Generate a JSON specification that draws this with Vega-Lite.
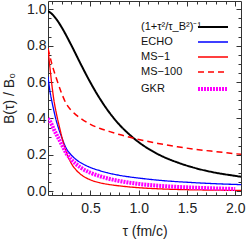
{
  "$schema": "https://vega.github.io/schema/vega-lite/v6.json",
  "width": 193,
  "height": 194,
  "autosize": {"type": "none"},
  "padding": {"left": 48, "top": 1, "right": 5, "bottom": 45},
  "config": {
    "view": {"stroke": "#333", "strokeWidth": 1},
    "font": "Liberation Sans",
    "axis": {"labelFont": "Liberation Sans", "titleFont": "Liberation Sans", "labelFontSize": 14, "titleFontSize": 14, "titleFontWeight": "normal", "labelColor": "#222", "titleColor": "#222", "tickColor": "#333", "domain": false, "grid": false}
  },
  "datasets": {
    "curves": [
      {"s": "(1+τ²/τ_B²)⁻¹", "t": 0.06, "b": 0.990}, {"s": "(1+τ²/τ_B²)⁻¹", "t": 0.1, "b": 0.974}, {"s": "(1+τ²/τ_B²)⁻¹", "t": 0.15, "b": 0.943}, {"s": "(1+τ²/τ_B²)⁻¹", "t": 0.2, "b": 0.902}, {"s": "(1+τ²/τ_B²)⁻¹", "t": 0.3, "b": 0.804}, {"s": "(1+τ²/τ_B²)⁻¹", "t": 0.4, "b": 0.698}, {"s": "(1+τ²/τ_B²)⁻¹", "t": 0.5, "b": 0.597}, {"s": "(1+τ²/τ_B²)⁻¹", "t": 0.6, "b": 0.507}, {"s": "(1+τ²/τ_B²)⁻¹", "t": 0.7, "b": 0.430}, {"s": "(1+τ²/τ_B²)⁻¹", "t": 0.8, "b": 0.366}, {"s": "(1+τ²/τ_B²)⁻¹", "t": 0.9, "b": 0.314}, {"s": "(1+τ²/τ_B²)⁻¹", "t": 1.0, "b": 0.270}, {"s": "(1+τ²/τ_B²)⁻¹", "t": 1.1, "b": 0.234}, {"s": "(1+τ²/τ_B²)⁻¹", "t": 1.2, "b": 0.204}, {"s": "(1+τ²/τ_B²)⁻¹", "t": 1.4, "b": 0.159}, {"s": "(1+τ²/τ_B²)⁻¹", "t": 1.6, "b": 0.126}, {"s": "(1+τ²/τ_B²)⁻¹", "t": 1.8, "b": 0.102}, {"s": "(1+τ²/τ_B²)⁻¹", "t": 2.0, "b": 0.085}, {"s": "(1+τ²/τ_B²)⁻¹", "t": 2.06, "b": 0.080},
      {"s": "ECHO", "t": 0.06, "b": 0.63}, {"s": "ECHO", "t": 0.08, "b": 0.55}, {"s": "ECHO", "t": 0.1, "b": 0.495}, {"s": "ECHO", "t": 0.12, "b": 0.445}, {"s": "ECHO", "t": 0.14, "b": 0.40}, {"s": "ECHO", "t": 0.17, "b": 0.345}, {"s": "ECHO", "t": 0.2, "b": 0.30}, {"s": "ECHO", "t": 0.25, "b": 0.235}, {"s": "ECHO", "t": 0.3, "b": 0.20}, {"s": "ECHO", "t": 0.35, "b": 0.175}, {"s": "ECHO", "t": 0.4, "b": 0.157}, {"s": "ECHO", "t": 0.5, "b": 0.131}, {"s": "ECHO", "t": 0.6, "b": 0.113}, {"s": "ECHO", "t": 0.7, "b": 0.099}, {"s": "ECHO", "t": 0.8, "b": 0.088}, {"s": "ECHO", "t": 1.0, "b": 0.073}, {"s": "ECHO", "t": 1.25, "b": 0.059}, {"s": "ECHO", "t": 1.5, "b": 0.05}, {"s": "ECHO", "t": 1.75, "b": 0.043}, {"s": "ECHO", "t": 2.06, "b": 0.037},
      {"s": "MS−1", "t": 0.06, "b": 0.785}, {"s": "MS−1", "t": 0.08, "b": 0.68}, {"s": "MS−1", "t": 0.1, "b": 0.585}, {"s": "MS−1", "t": 0.12, "b": 0.505}, {"s": "MS−1", "t": 0.15, "b": 0.42}, {"s": "MS−1", "t": 0.18, "b": 0.35}, {"s": "MS−1", "t": 0.21, "b": 0.285}, {"s": "MS−1", "t": 0.25, "b": 0.215}, {"s": "MS−1", "t": 0.3, "b": 0.155}, {"s": "MS−1", "t": 0.35, "b": 0.118}, {"s": "MS−1", "t": 0.4, "b": 0.093}, {"s": "MS−1", "t": 0.5, "b": 0.063}, {"s": "MS−1", "t": 0.6, "b": 0.047}, {"s": "MS−1", "t": 0.7, "b": 0.037}, {"s": "MS−1", "t": 0.8, "b": 0.03}, {"s": "MS−1", "t": 1.0, "b": 0.02}, {"s": "MS−1", "t": 1.25, "b": 0.013}, {"s": "MS−1", "t": 1.5, "b": 0.009}, {"s": "MS−1", "t": 1.75, "b": 0.007}, {"s": "MS−1", "t": 2.06, "b": 0.005},
      {"s": "MS−100", "t": 0.06, "b": 0.785}, {"s": "MS−100", "t": 0.1, "b": 0.70}, {"s": "MS−100", "t": 0.15, "b": 0.615}, {"s": "MS−100", "t": 0.2, "b": 0.54}, {"s": "MS−100", "t": 0.25, "b": 0.48}, {"s": "MS−100", "t": 0.3, "b": 0.445}, {"s": "MS−100", "t": 0.35, "b": 0.42}, {"s": "MS−100", "t": 0.4, "b": 0.40}, {"s": "MS−100", "t": 0.5, "b": 0.368}, {"s": "MS−100", "t": 0.6, "b": 0.345}, {"s": "MS−100", "t": 0.7, "b": 0.328}, {"s": "MS−100", "t": 0.8, "b": 0.312}, {"s": "MS−100", "t": 0.9, "b": 0.298}, {"s": "MS−100", "t": 1.0, "b": 0.285}, {"s": "MS−100", "t": 1.2, "b": 0.263}, {"s": "MS−100", "t": 1.4, "b": 0.245}, {"s": "MS−100", "t": 1.6, "b": 0.23}, {"s": "MS−100", "t": 1.8, "b": 0.218}, {"s": "MS−100", "t": 2.06, "b": 0.203},
      {"s": "GKR", "t": 0.06, "b": 0.40}, {"s": "GKR", "t": 0.08, "b": 0.385}, {"s": "GKR", "t": 0.1, "b": 0.365}, {"s": "GKR", "t": 0.13, "b": 0.33}, {"s": "GKR", "t": 0.16, "b": 0.30}, {"s": "GKR", "t": 0.2, "b": 0.26}, {"s": "GKR", "t": 0.25, "b": 0.21}, {"s": "GKR", "t": 0.3, "b": 0.175}, {"s": "GKR", "t": 0.35, "b": 0.15}, {"s": "GKR", "t": 0.4, "b": 0.13}, {"s": "GKR", "t": 0.5, "b": 0.102}, {"s": "GKR", "t": 0.6, "b": 0.083}, {"s": "GKR", "t": 0.7, "b": 0.068}, {"s": "GKR", "t": 0.8, "b": 0.057}, {"s": "GKR", "t": 1.0, "b": 0.041}, {"s": "GKR", "t": 1.25, "b": 0.029}, {"s": "GKR", "t": 1.5, "b": 0.022}, {"s": "GKR", "t": 1.75, "b": 0.017}, {"s": "GKR", "t": 2.0, "b": 0.013}
    ]
  },
  "data": {"name": "curves"},
  "resolve": {"axis": {"x": "independent", "y": "independent"}},
  "layer": [
    {
      "mark": {"type": "line", "interpolate": "monotone", "clip": true},
      "encoding": {
        "x": {"field": "t", "type": "quantitative", "scale": {"domain": [0.06, 2.06], "nice": false, "zero": false},
          "axis": {"orient": "bottom", "title": "τ (fm/c)", "values": [0.1,0.2,0.3,0.4,0.5,0.6,0.7,0.8,0.9,1.0,1.1,1.2,1.3,1.4,1.5,1.6,1.7,1.8,1.9,2.0],
            "tickSize": {"condition": {"test": "abs(datum.value*2 - round(datum.value*2)) < 0.001", "value": -5}, "value": -3},
            "labelExpr": "abs(datum.value*2 - round(datum.value*2)) < 0.001 ? format(datum.value, '.1f') : ''",
            "labelBaseline": "top", "labelPadding": 11, "titlePadding": 7, "labelFlush": false, "labelOverlap": false}},
        "y": {"field": "b", "type": "quantitative", "scale": {"domain": [-0.02, 1.045], "nice": false, "zero": false},
          "axis": {"orient": "left", "title": "B(τ) / B₀", "values": [0,0.05,0.1,0.15,0.2,0.25,0.3,0.35,0.4,0.45,0.5,0.55,0.6,0.65,0.7,0.75,0.8,0.85,0.9,0.95,1.0],
            "tickSize": {"condition": {"test": "abs(datum.value*5 - round(datum.value*5)) < 0.001", "value": -5}, "value": -3},
            "labelExpr": "abs(datum.value*5 - round(datum.value*5)) < 0.001 ? format(datum.value, '.1f') : ''",
            "labelAlign": "right", "labelBaseline": "middle", "labelPadding": 7, "titlePadding": 10, "labelFlush": false, "labelOverlap": false}},
        "detail": {"field": "s"},
        "color": {"field": "s", "type": "nominal", "title": null,
          "scale": {"domain": ["(1+τ²/τ_B²)⁻¹", "ECHO", "MS−1", "MS−100", "GKR"], "range": ["#000000", "#0000ff", "#ff0000", "#ff0000", "#ff00ff"]},
          "legend": {"orient": "none", "legendX": 158, "legendY": 20, "symbolType": "M-3,0H3", "symbolSize": 100, "labelFontSize": 11, "labelFont": "Liberation Sans", "labelColor": "#111", "rowPadding": 4, "labelAlign": "left", "labelOffset": -79, "padding": 0}},
        "strokeDash": {"field": "s", "type": "nominal",
          "scale": {"domain": ["(1+τ²/τ_B²)⁻¹", "ECHO", "MS−1", "MS−100", "GKR"], "range": [[1,0],[1,0],[1,0],[6,4],[2,1]]}, "legend": null},
        "strokeWidth": {"field": "s", "type": "nominal",
          "scale": {"type": "ordinal", "domain": ["(1+τ²/τ_B²)⁻¹", "ECHO", "MS−1", "MS−100", "GKR"], "range": [2, 1.3, 1.3, 1.5, 4]}, "legend": null}
      }
    },
    {
      "mark": {"type": "line", "opacity": 0},
      "encoding": {
        "x": {"field": "t", "type": "quantitative",
          "axis": {"orient": "top", "title": null, "labels": false, "values": [0.1,0.2,0.3,0.4,0.5,0.6,0.7,0.8,0.9,1.0,1.1,1.2,1.3,1.4,1.5,1.6,1.7,1.8,1.9,2.0],
            "tickSize": {"condition": {"test": "abs(datum.value*2 - round(datum.value*2)) < 0.001", "value": -5}, "value": -3}}},
        "y": {"field": "b", "type": "quantitative",
          "axis": {"orient": "right", "title": null, "labels": false, "values": [0,0.05,0.1,0.15,0.2,0.25,0.3,0.35,0.4,0.45,0.5,0.55,0.6,0.65,0.7,0.75,0.8,0.85,0.9,0.95,1.0],
            "tickSize": {"condition": {"test": "abs(datum.value*5 - round(datum.value*5)) < 0.001", "value": -5}, "value": -3}}},
        "detail": {"field": "s"}
      }
    }
  ]
}
